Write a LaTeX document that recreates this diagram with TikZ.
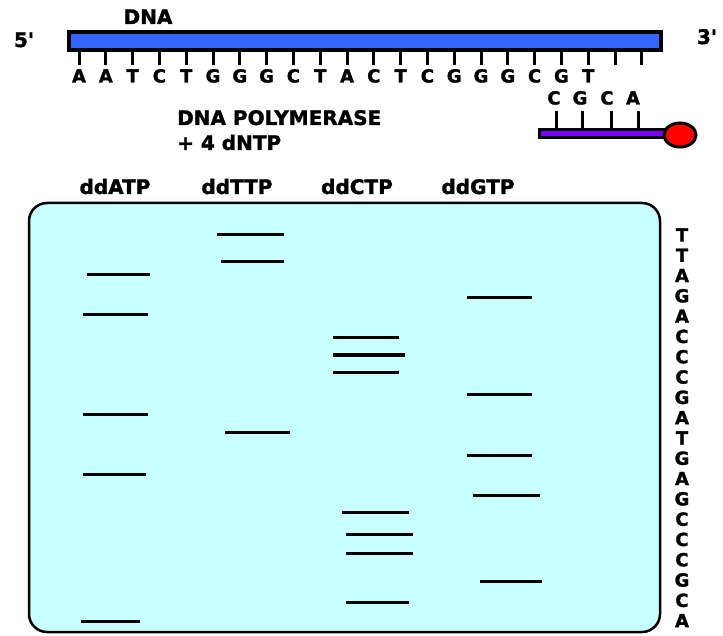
\documentclass[tikz,border=0pt]{standalone}
\usepackage{fontspec}
\setmainfont{DejaVu Sans}
\newfontfamily\pixfont{DejaVu Sans Bold}[FakeBold=1.6]
\definecolor{gelfill}{RGB}{200,255,255}
\definecolor{dnablue}{RGB}{51,102,255}
\definecolor{primerpurple}{RGB}{128,0,255}
\begin{document}
\begin{tikzpicture}[x=1pt,y=-1pt,
  lbl/.style={font=\pixfont\fontsize{20}{20}\selectfont, inner sep=0pt, text height=14pt, text depth=0pt},
  basel/.style={font=\pixfont\fontsize{18}{18}\selectfont, inner sep=0pt, text height=13pt, text depth=0pt},
  coll/.style={font=\pixfont\fontsize{18}{18}\selectfont, inner sep=0pt, text height=13pt, text depth=0pt},
  band/.style={line width=3pt},
  tickmark/.style={line width=3pt}]
\useasboundingbox (0,0) rectangle (723,636);

% DNA template strand
\foreach \i in {0,...,21} \draw[tickmark] (79+\i*26.8,50) -- ++(0,15);
\draw[line width=4pt, fill=dnablue] (69,32) rectangle (661,50);
\node[lbl] (dna) at (148,17) {DNA};
\node[lbl] (five) at (24,40) {5\symbol{39}};
\node[lbl] (three) at (707,37) {3\symbol{39}};
\foreach \l [count=\i from 0] in {A,A,T,C,T,G,G,G,C,T,A,C,T,C,G,G,G,C,G,T}
  \node[basel] (t\i) at (79+\i*26.8,76) {\l};

% primer
\foreach \x in {556,582,611,638} \draw[tickmark] (\x,111) -- (\x,130);
\draw[line width=3pt, fill=primerpurple] (539,130) rectangle (665,138);
\draw[line width=3pt, fill=red] (680,135) ellipse [x radius=16, y radius=12];
\foreach \l/\x [count=\i] in {C/554,G/580,C/607,A/633}
  \node[basel] (p\i) at (\x,98) {\l};

\node[lbl, anchor=west] (pol) at (177,118) {DNA POLYMERASE};
\node[lbl, anchor=west] (ntp) at (177,143) {+ 4 dNTP};

% lane labels
\node[lbl] (la) at (115,187) {ddATP};
\node[lbl] (lt) at (237,187) {ddTTP};
\node[lbl] (lc) at (357,187) {ddCTP};
\node[lbl] (lg) at (478,187) {ddGTP};

% gel
\draw[line width=2.5pt, fill=gelfill, rounded corners=18pt] (29,203) rectangle (660,632);

% ddATP bands
\draw[band] (87,275) -- (150,275);
\draw[band] (83,315) -- (148,315);
\draw[band] (83,414) -- (148,414);
\draw[band] (83,474) -- (146,474);
\draw[band] (81,621) -- (140,621);
% ddTTP bands
\draw[band] (217,235) -- (284,235);
\draw[band] (221,262) -- (284,262);
\draw[band] (225,432) -- (290,432);
% ddCTP bands
\draw[band] (333,338) -- (399,338);
\draw[band] (333,355) -- (405,355);
\draw[band] (333,372) -- (399,372);
\draw[band] (342,512) -- (409,512);
\draw[band] (346,534) -- (413,534);
\draw[band] (346,553) -- (413,553);
\draw[band] (346,602) -- (409,602);
% ddGTP bands
\draw[band] (467,298) -- (532,298);
\draw[band] (467,394) -- (532,394);
\draw[band] (467,455) -- (532,455);
\draw[band] (473,495) -- (540,495);
\draw[band] (480,581) -- (542,581);

% read sequence
\foreach \l [count=\i from 0] in {T,T,A,G,A,C,C,C,G,A,T,G,A,G,C,C,C,G,C,A}
  \node[coll] (r\i) at (682,235+\i*20.3) {\l};
\end{tikzpicture}
\end{document}
